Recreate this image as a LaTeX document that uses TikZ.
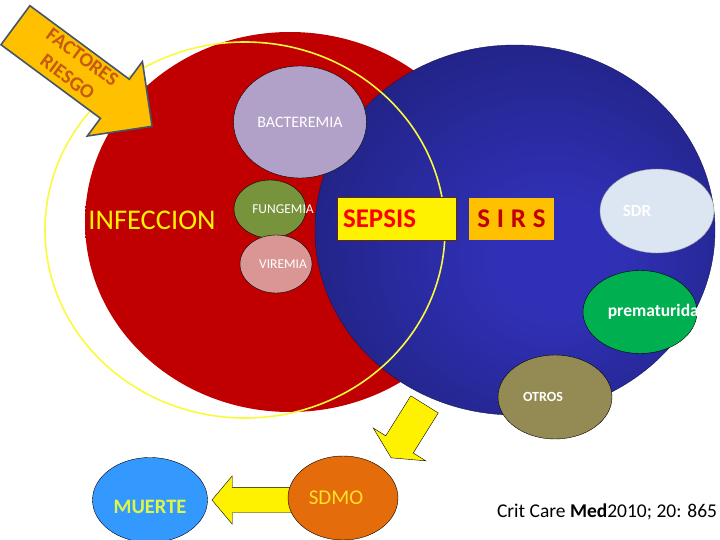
\documentclass[tikz,border=0pt]{standalone}
\usepackage{fontspec}
\setmainfont{Carlito}
\usetikzlibrary{shapes.geometric,shapes.arrows,positioning}

\definecolor{infRed}{RGB}{192,0,0}
\definecolor{infDark}{RGB}{150,0,0}
\definecolor{sirsLt}{RGB}{48,48,182}
\definecolor{sirsMid}{RGB}{33,35,132}
\definecolor{sirsDk}{RGB}{21,23,84}
\definecolor{ringYellow}{RGB}{250,250,60}
\definecolor{bactFill}{RGB}{177,160,199}
\definecolor{fungFill}{RGB}{119,147,60}
\definecolor{virFill}{RGB}{217,150,148}
\definecolor{sdrFill}{RGB}{220,230,242}
\definecolor{premFill}{RGB}{0,176,80}
\definecolor{otrosFill}{RGB}{148,138,84}
\definecolor{sdmoFill}{RGB}{228,108,10}
\definecolor{muerteFill}{RGB}{51,153,255}
\definecolor{factFill}{RGB}{255,192,0}
\definecolor{factLine}{RGB}{68,84,106}
\definecolor{factText}{RGB}{197,90,17}
\definecolor{sepsisLine}{RGB}{90,45,20}
\definecolor{sdmoText}{RGB}{255,225,40}
\definecolor{muerteText}{RGB}{225,245,70}

\pgfdeclareradialshading{sirsshade}{\pgfpoint{6bp}{-5bp}}{color(0bp)=(sirsLt); color(8bp)=(sirsLt); color(30bp)=(sirsMid); color(52bp)=(sirsDk)}
\pgfdeclareverticalshading{infshade}{100bp}{color(0bp)=(infRed); color(86bp)=(infRed); color(100bp)=(infDark)}

\begin{document}
\begin{tikzpicture}[
    x=1pt, y=-1pt,
    blob/.style = {ellipse, draw=black, line width=0.4pt, inner sep=0pt},
    blobtext/.style = {text=white, font=\fontsize{13}{15}\selectfont},
    boxlbl/.style = {rectangle, minimum height=42pt, inner sep=0pt, font=\bfseries\fontsize{27}{30}\selectfont},
    blockarrow/.style = {single arrow, fill=yellow, draw=black, line width=0.4pt,
        inner xsep=0pt, anchor=tip, single arrow head indent=0pt}
  ]
  \useasboundingbox (0,0) rectangle (720,540);

  % the three rings
  \shade[shading=infshade] (290,222) ellipse [x radius=205, y radius=190];
  \shadedraw[shading=sirsshade, draw=sirsDk, line width=0.4pt] (515,230) ellipse [x radius=200, y radius=185];
  \draw[ringYellow, line width=1.6pt] (245,230) ellipse [x radius=200, y radius=188];

  \node[text=yellow, font=\fontsize{28.5}{32}\selectfont] (infeccion) at (152,220) {INFECCION};

  % infection types
  \node[blob, fill=bactFill, minimum width=133pt, minimum height=112pt] (bact) at (300,122) {};
  \node[blobtext, font=\fontsize{16}{18}\selectfont] (bacttxt) at (bact.center) {BACTEREMIA};
  \node[blob, fill=fungFill, minimum width=72pt, minimum height=58pt] (fung) at (270,209) {};
  \node[blobtext, font=\fontsize{13.5}{15}\selectfont] (fungtxt) at ([xshift=13pt]fung.center) {FUNGEMIA};
  \node[blob, fill=virFill, minimum width=72pt, minimum height=58pt] (vir) at (276,264) {};
  \node[blobtext, font=\fontsize{13.5}{15}\selectfont] (virtxt) at ([xshift=7pt]vir.center) {VIREMIA};

  \node[boxlbl, fill=yellow, draw=sepsisLine, line width=1pt, text width=107pt, inner xsep=6pt,
    align=left, text=red] (sepsis) at (396.5,219) {SEPSIS};
  \node[boxlbl, fill=factFill, minimum width=85pt, text=infRed] (sirs) at (511.5,219) {S\hspace{0.25em}I\hspace{0.25em}R\hspace{0.25em}S};

  % SIRS causes
  \node[blob, fill=sdrFill, draw=white!60!black, minimum width=114pt, minimum height=84pt] (sdr) at (657,211) {};
  \node[blobtext, font=\bfseries\fontsize{17}{19}\selectfont] (sdrtxt) at ([xshift=-20pt]sdr.center) {SDR};
  \node[blob, fill=premFill, minimum width=114pt, minimum height=83pt] (prem) at (640,312) {};
  \node[blobtext, font=\bfseries\fontsize{17.5}{19}\selectfont] (premtxt) at ([xshift=18pt]prem.center) {prematuridad};
  \node[blob, fill=otrosFill, minimum width=114pt, minimum height=84pt] (otros) at (555,397) {};
  \node[blobtext, font=\bfseries\fontsize{14}{16}\selectfont] (otrostxt) at ([xshift=-12pt]otros.center) {OTROS};

  % outcome
  \node[blob, fill=muerteFill, minimum width=115pt, minimum height=85pt] (muerte) at (150,500) {};
  \node[text=muerteText, font=\bfseries\fontsize{20.5}{23}\selectfont] (muertetxt) at ([yshift=-7pt]muerte.center) {MUERTE};
  \node[blockarrow, inner ysep=12.5pt, minimum height=85pt, single arrow head extend=11.5pt,
    single arrow tip angle=100, rotate=180] (tomuerte) at ([xshift=4pt]muerte.east) {};
  \node[blob, fill=sdmoFill, minimum width=110pt, minimum height=84pt] (sdmo) at (343,498) {};
  \node[text=sdmoText, font=\fontsize{21}{24}\selectfont] (sdmotxt) at ([xshift=-7pt]sdmo.center) {SDMO};
  \node[blockarrow, inner ysep=16pt, minimum height=63pt, single arrow head extend=14.8pt,
    single arrow tip angle=126, rotate=238] (tosdmo) at (391,458) {};

  % risk factors
  \node[blockarrow, fill=factFill, draw=factLine, line width=1.6pt, inner ysep=23.5pt,
    minimum height=170pt, single arrow head extend=22pt, rotate=-36.5] (factores) at (153,127) {};
  \node[text=factText, font=\bfseries\fontsize{20}{25}\selectfont, align=center, rotate=-36.5] (factxt) at (75,67) {FACTORES\\RIESGO};

  \node[font=\fontsize{19.5}{22}\selectfont] (cita) at (607,512) {Crit Care \textbf{Med}2010; 20: 865};
\end{tikzpicture}
\end{document}
